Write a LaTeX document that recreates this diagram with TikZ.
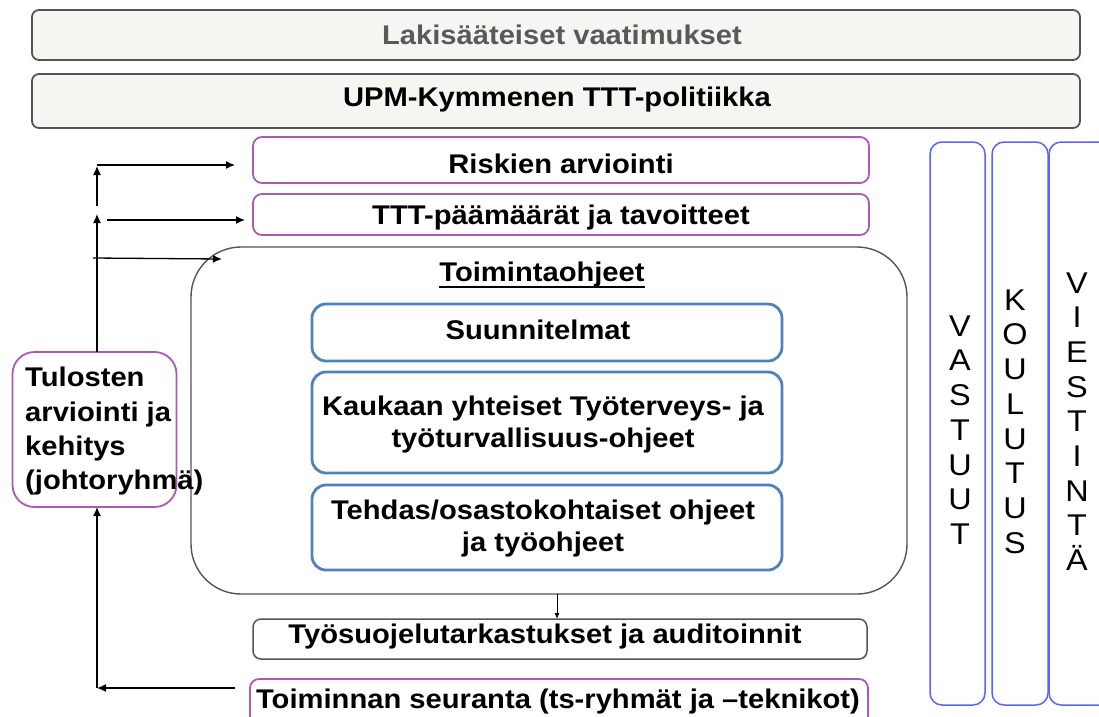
\documentclass[tikz,border=0pt]{standalone}
\usepackage{fontspec}
\setmainfont{Liberation Sans}[FakeStretch=1.08]
\usetikzlibrary{arrows.meta}
\definecolor{purp}{RGB}{172,88,180}
\definecolor{ibl}{RGB}{79,129,189}
\definecolor{rbl}{RGB}{90,100,250}
\definecolor{graybd}{RGB}{85,85,85}
\definecolor{barfill}{RGB}{246,245,242}
\definecolor{graytxt}{RGB}{89,89,89}
\tikzset{
  bar/.style={draw=graybd, fill=barfill, line width=1.8pt, rounded corners=7pt, inner sep=0pt, outer sep=0pt},
  pbox/.style={draw=purp, fill=white, line width=1.8pt, rounded corners=9pt, inner sep=0pt, outer sep=0pt},
  bbox/.style={draw=ibl, fill=white, line width=2.8pt, rounded corners=14pt, inner sep=0pt, outer sep=0pt},
  gbox/.style={draw=graybd, fill=white, line width=1.5pt, rounded corners=8pt, inner sep=0pt, outer sep=0pt},
  bigbox/.style={draw=graybd, line width=1.4pt, rounded corners=50pt, inner sep=0pt, outer sep=0pt},
  colbox/.style={draw=rbl, line width=1.5pt, rounded corners=12pt, inner sep=0pt, outer sep=0pt},
  txt/.style={font=\bfseries\fontsize{27}{32}\selectfont, inner sep=0pt, anchor=base},
  mtxt/.style={font=\bfseries\fontsize{27}{32}\selectfont, inner sep=0pt, align=center},
  coltxt/.style={font=\fontsize{30}{34.7}\selectfont, inner sep=0pt, align=center},
  conn/.style={line width=1.3pt, -{Latex[length=9pt,width=8pt]}},
  smallconn/.style={line width=1pt, -{Latex[length=6pt,width=5pt]}},
}
\begin{document}
\begin{tikzpicture}[x=1pt,y=-1pt]
\useasboundingbox (0,0) rectangle (1099,716);
% top bars
\node[bar, minimum width=1048pt, minimum height=50pt] (lak) at (556,35) {};
\node[txt, text=graytxt] (lakt) at (562,44) {Lakisääteiset vaatimukset};
\node[bar, minimum width=1048pt, minimum height=54pt] (upm) at (556,101) {};
\node[txt] (upmt) at (557,106) {UPM-Kymmenen TTT-politiikka};
% purple boxes
\node[pbox, minimum width=616pt, minimum height=46pt] (risk) at (561,160) {};
\node[txt] (riskt) at (561,173) {Riskien arviointi};
\node[pbox, minimum width=616pt, minimum height=41pt] (ttt) at (561,214.5) {};
\node[txt] (tttt) at (561,224) {TTT-päämäärät ja tavoitteet};
% big box
\node[bigbox, minimum width=716pt, minimum height=347pt] (toim) at (549,420.5) {};
\node[txt] (toimt) at (542,281) {Toimintaohjeet};
\draw[line width=1.8pt] ([yshift=-6pt]toimt.base west) -- ([yshift=-6pt]toimt.base east);
% inner blue boxes
\node[bbox, minimum width=470pt, minimum height=57pt] (suun) at (547,332.5) {};
\node[txt] (suunt) at (538,339) {Suunnitelmat};
\node[bbox, minimum width=470pt, minimum height=101pt] (kauk) at (547,422.5) {};
\node[mtxt] (kaukt) at (543,424.7) {Kaukaan yhteiset Työterveys- ja\\työturvallisuus-ohjeet};
\node[bbox, minimum width=470pt, minimum height=85pt] (tehd) at (547,527.5) {};
\node[mtxt] (tehdt) at (543,529) {Tehdas/osastokohtaiset ohjeet\\ja työohjeet};
% bottom boxes
\node[gbox, minimum width=614pt, minimum height=40pt] (tyo) at (560,639) {};
\node[txt] (tyot) at (545,643) {Työsuojelutarkastukset ja auditoinnit};
\node[pbox, minimum width=618pt, minimum height=60pt] (seur) at (559,709) {};
\node[txt] (seurt) at (558,708) {Toiminnan seuranta (ts-ryhmät ja –teknikot)};
% left box
\node[pbox, rounded corners=22pt, minimum width=164pt, minimum height=155pt] (tul) at (94.5,429.5) {};
\node[mtxt, align=left, anchor=west, font=\bfseries\fontsize{27}{34.3}\selectfont] (tult) at (25,431.2) {Tulosten\\arviointi ja\\kehitys\\(johtoryhmä)};
% right columns
\node[colbox, minimum width=55pt, minimum height=563pt] (vast) at (957.5,423.5) {};
\node[coltxt] (vastt) at (960,430) {V\\A\\S\\T\\U\\U\\T};
\node[colbox, minimum width=56pt, minimum height=563pt] (koul) at (1020,423.5) {};
\node[coltxt] (koult) at (1015,421.5) {K\\O\\U\\L\\U\\T\\U\\S};
\node[colbox, minimum width=62pt, minimum height=563pt] (vies) at (1080,423.5) {};
\node[coltxt] (viest) at (1077,421.5) {V\\I\\E\\S\\T\\I\\N\\T\\Ä};
% connectors
\coordinate (a1) at (97,214);
\coordinate (b0) at (97,206);
\coordinate (b1) at (97,166);
\coordinate (c0) at (97,165);
\coordinate (c1) at (235,165);
\coordinate (d0) at (107,220);
\coordinate (d1) at (245,220);
\coordinate (e0) at (93,258);
\coordinate (e1) at (222,259);
\coordinate (f0) at (235,688);
\coordinate (f1) at (97,688);
\draw[line width=1.3pt] (tul.north -| a1) -- (e0 -| a1);
\draw[conn] (e0 -| a1) -- (a1);
\draw[conn] (b0) -- (b1);
\draw[conn] (c0) -- (c1);
\draw[conn] (d0) -- (d1);
\draw[conn] (e0) -- (e1);
\draw[smallconn] (toim.south -| 557,0) -- (tyo.north -| 557,0);
\draw[conn] (f0) -- (f1);
\draw[conn] (f1) -- (tul.south -| f1);
\end{tikzpicture}
\end{document}
